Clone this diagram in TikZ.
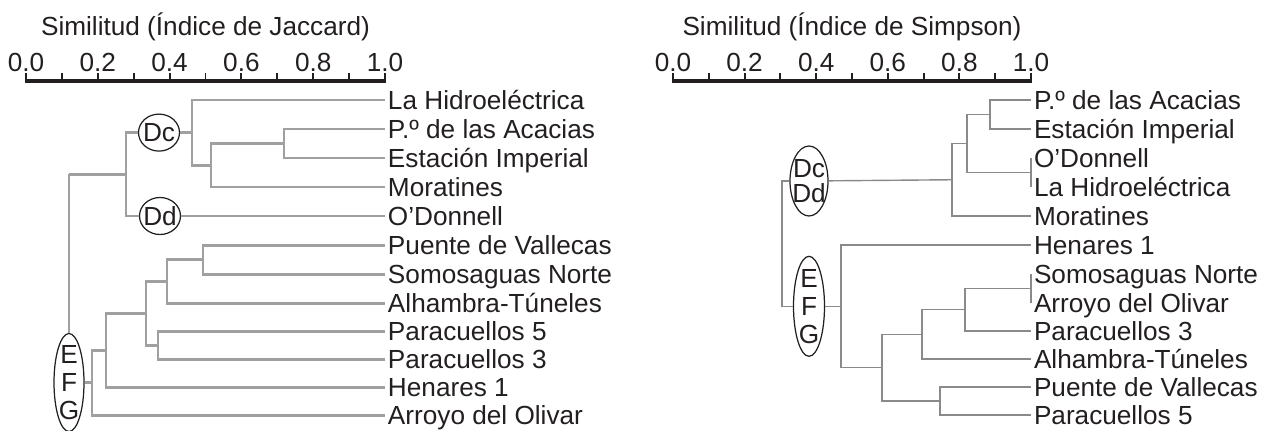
\documentclass[tikz,border=0pt]{standalone}
\usepackage{fontspec}
\setmainfont{Liberation Sans}
\usetikzlibrary{shapes.geometric}
\definecolor{tinta}{HTML}{231F20}
\definecolor{ramaizq}{HTML}{A0A0A0}
\definecolor{ramader}{HTML}{8A8A8A}
\newcommand{\grupotxt}[1]{\makebox[0pt]{\raisebox{-0.5\height}[0pt][0pt]{\shortstack{#1}}}}

\begin{document}
\begin{tikzpicture}[x=0.02cm,y=-0.02cm,
  font=\fontsize{14.9}{17}\selectfont, text=tinta,
  eje/.style={tinta,line width=1.8pt},
  marca/.style={tinta,line width=1.1pt},
  rotulo/.style={anchor=base,inner sep=0pt},
  hoja/.style={anchor=west,inner xsep=1.5pt,inner ysep=0pt,text height=10.7pt,text depth=0pt},
  rama/.style={ramaizq,line width=1.7pt},
  ramab/.style={ramader,line width=0.8pt},
  grupo/.style={ellipse,draw=tinta,line width=0.7pt,inner sep=0pt}]
\useasboundingbox (0,0) rectangle (1264,430);

%escala de Jaccard
\node[rotulo] (tJac) at (205.5,35) {Similitud (Índice de Jaccard)};
\draw[eje] (25,81) -- (386,81);
\foreach \i in {0,...,10}
  \draw[marca] (26+35.9*\i,81) -- (26+35.9*\i,73);
\foreach \i/\t in {0/0.0,2/0.2,4/0.4,6/0.6,8/0.8,10/1.0}
  \node[rotulo] (ja\i) at (26+35.9*\i,71.5) {\t};

%escala de Simpson
\node[rotulo] (tSim) at (852,35) {Similitud (Índice de Simpson)};
\draw[eje] (672,81) -- (1032,81);
\foreach \i in {0,...,10}
  \draw[marca] (673+35.8*\i,81) -- (673+35.8*\i,73);
\foreach \i/\t in {0/0.0,2/0.2,4/0.4,6/0.6,8/0.8,10/1.0}
  \node[rotulo] (sa\i) at (673+35.8*\i,71.5) {\t};

%hojas Jaccard
\node[hoja] (hHid) at (385,100) {La Hidroeléctrica};
\node[hoja] (hAca) at (385,129) {P.º de las Acacias};
\node[hoja] (hEst) at (385,158) {Estación Imperial};
\node[hoja] (hMor) at (385,187) {Moratines};
\node[hoja] (hODo) at (385,216) {O’Donnell};
\node[hoja] (hVal) at (385,245) {Puente de Vallecas};
\node[hoja] (hSom) at (385,274) {Somosaguas Norte};
\node[hoja] (hAlh) at (385,303) {Alhambra-Túneles};
\node[hoja] (hPa5) at (385,331) {Paracuellos 5};
\node[hoja] (hPa3) at (385,359) {Paracuellos 3};
\node[hoja] (hHen) at (385,387) {Henares 1};
\node[hoja] (hArr) at (385,415) {Arroyo del Olivar};

%uniones Jaccard
\coordinate (jAE) at (284,143.5);
\coordinate (jAEM) at (211,165.25);
\coordinate (jDc) at (192,132.6);
\coordinate (jD) at (126,174.3);
\coordinate (jVS) at (203,259.5);
\coordinate (jVSA) at (167,281.25);
\coordinate (jPP) at (158,345);
\coordinate (jM) at (146,313);
\coordinate (jMH) at (106,350);
\coordinate (jEFG) at (92,382.5);
\coordinate (jR) at (69,174.3);
\node[grupo,minimum width=0.82cm,minimum height=0.74cm] (eDc) at (159,132.6) {\grupotxt{Dc}};
\node[grupo,minimum width=0.82cm,minimum height=0.74cm] (eDd) at (160,216) {\grupotxt{Dd}};
\node[grupo,minimum width=0.6cm,minimum height=1.96cm] (eEFG) at (69,382.5) {\grupotxt{E\\[2.5pt]F\\[2.5pt]G}};

%ramas Jaccard
\draw[rama] (jAE) |- (hAca.west);
\draw[rama] (jAE) |- (hEst.west);
\draw[rama] (jAEM) |- (jAE);
\draw[rama] (jAEM) |- (hMor.west);
\draw[rama] (jDc) |- (hHid.west);
\draw[rama] (jDc) |- (jAEM);
\draw[rama] (eDc) -- (jDc);
\draw[rama] (jD) |- (eDc);
\draw[rama] (jD) |- (eDd);
\draw[rama] (eDd) -- (hODo.west);
\draw[rama] (jR) -- (jD);
\draw[rama] (jR) -- (eEFG);
\draw[rama] (eEFG) -- (jEFG);
\draw[rama] (jEFG) |- (jMH);
\draw[rama] (jEFG) |- (hArr.west);
\draw[rama] (jMH) |- (jM);
\draw[rama] (jMH) |- (hHen.west);
\draw[rama] (jM) |- (jVSA);
\draw[rama] (jM) |- (jPP);
\draw[rama] (jVSA) |- (jVS);
\draw[rama] (jVSA) |- (hAlh.west);
\draw[rama] (jVS) |- (hVal.west);
\draw[rama] (jVS) |- (hSom.west);
\draw[rama] (jPP) |- (hPa5.west);
\draw[rama] (jPP) |- (hPa3.west);

%hojas Simpson
\node[hoja] (kAca) at (1031,100) {P.º de las Acacias};
\node[hoja] (kEst) at (1031,129) {Estación Imperial};
\node[hoja] (kODo) at (1031,158) {O’Donnell};
\node[hoja] (kHid) at (1031,187) {La Hidroeléctrica};
\node[hoja] (kMor) at (1031,216) {Moratines};
\node[hoja] (kHen) at (1031,245) {Henares 1};
\node[hoja] (kSom) at (1031,274) {Somosaguas Norte};
\node[hoja] (kArr) at (1031,303) {Arroyo del Olivar};
\node[hoja] (kPa3) at (1031,331) {Paracuellos 3};
\node[hoja] (kAlh) at (1031,359) {Alhambra-Túneles};
\node[hoja] (kVal) at (1031,387) {Puente de Vallecas};
\node[hoja] (kPa5) at (1031,415) {Paracuellos 5};

%uniones Simpson
\coordinate (mAE) at (990,114.5);
\coordinate (mOH) at (1031,172.5);
\coordinate (mAEOH) at (967,143.5);
\coordinate (mDc) at (952,179.75);
\coordinate (mSA) at (1031,288.5);
\coordinate (mSAP) at (965,309.75);
\coordinate (mSAPA) at (922,334.4);
\coordinate (mVP) at (940,401);
\coordinate (mRest) at (882,367.7);
\coordinate (mEFG) at (841,306.3);
\coordinate (mR) at (782,243);
\node[grupo,minimum width=0.76cm,minimum height=1.4cm] (eDcDd) at (809,181) {\grupotxt{Dc\\Dd}};
\node[grupo,minimum width=0.62cm,minimum height=2cm] (eEFGr) at (809,306.3) {\grupotxt{E\\[2.5pt]F\\[2.5pt]G}};

%ramas Simpson
\draw[ramab] (mAE) |- (kAca.west);
\draw[ramab] (mAE) |- (kEst.west);
\draw[ramab] (mOH) |- (kODo.west);
\draw[ramab] (mOH) |- (kHid.west);
\draw[ramab] (mAEOH) |- (mAE);
\draw[ramab] (mAEOH) |- (mOH);
\draw[ramab] (mDc) |- (mAEOH);
\draw[ramab] (mDc) |- (kMor.west);
\draw[ramab] (eDcDd) -- (mDc);
\draw[ramab] (mR) |- (eDcDd);
\draw[ramab] (mR) |- (eEFGr);
\draw[ramab] (eEFGr) -- (mEFG);
\draw[ramab] (mEFG) |- (kHen.west);
\draw[ramab] (mEFG) |- (mRest);
\draw[ramab] (mRest) |- (mSAPA);
\draw[ramab] (mRest) |- (mVP);
\draw[ramab] (mSAPA) |- (mSAP);
\draw[ramab] (mSAPA) |- (kAlh.west);
\draw[ramab] (mSAP) |- (mSA);
\draw[ramab] (mSAP) |- (kPa3.west);
\draw[ramab] (mSA) |- (kSom.west);
\draw[ramab] (mSA) |- (kArr.west);
\draw[ramab] (mVP) |- (kVal.west);
\draw[ramab] (mVP) |- (kPa5.west);

\end{tikzpicture}
\end{document}
